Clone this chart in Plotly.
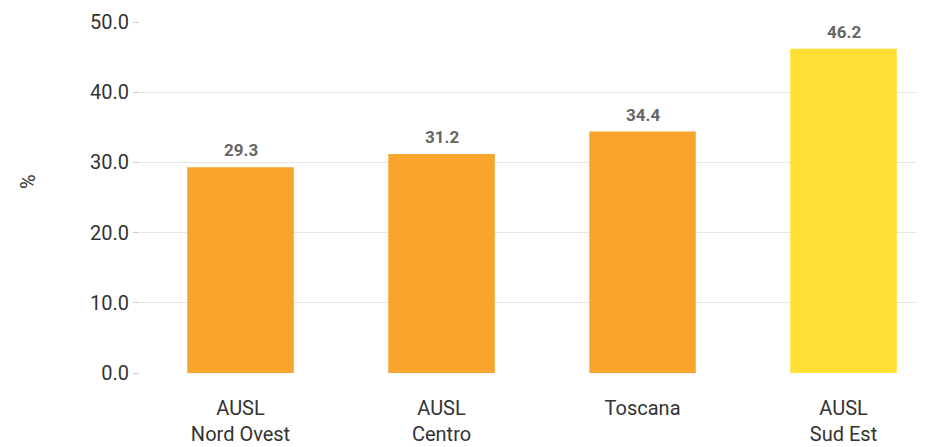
import plotly.graph_objects as go

categories = ["AUSL<br>Nord Ovest", "AUSL<br>Centro", "Toscana", "AUSL<br>Sud Est"]
values = [29.3, 31.2, 34.4, 46.2]
colors = ["#F9A42D", "#F9A42D", "#F9A42D", "#FFDF33"]
y_ticks = [0, 10, 20, 30, 40, 50]
y_tick_labels = ["0.0", "10.0", "20.0", "30.0", "40.0", "50.0"]

fig = go.Figure()
fig.add_trace(go.Bar(
    x=categories, y=values, marker=dict(color=colors, line=dict(width=0)),
    width=0.53, hoverinfo="skip",
))
for c, v in zip(categories, values):
    fig.add_annotation(x=c, y=v, text="<b>%.1f</b>" % v, showarrow=False,
                       yanchor="bottom", yshift=5,
                       font=dict(family="Roboto", size=17, color="#666666"))

fig.add_annotation(xref="paper", yref="paper", x=-0.1412, y=0.544, text="%",
                   xanchor="center", yanchor="middle",
                   textangle=-90, showarrow=False,
                   font=dict(family="Roboto", size=20, color="#333333"))

fig.update_layout(
    width=925, height=447,
    margin=dict(l=132, r=0, t=14, b=82),
    paper_bgcolor="white", plot_bgcolor="white",
    showlegend=False,
    font=dict(family="Roboto", color="#333333"),
    xaxis=dict(range=[-0.5, 3.445], showgrid=False, showline=False, zeroline=False,
               automargin=False,
               tickfont=dict(family="Roboto", size=20, color="#333333"), ticks="",
               ticklabelstandoff=21),
    yaxis=dict(range=[0, 50], tickvals=y_ticks, ticktext=y_tick_labels,
               automargin=False,
               showgrid=True, gridcolor="#E6E6E6", gridwidth=1, zeroline=False,
               ticks="outside", ticklen=6, tickcolor="#CCCCCC",
               tickfont=dict(family="Roboto", size=20, color="#333333")),
)
fig.write_html("out.html")
